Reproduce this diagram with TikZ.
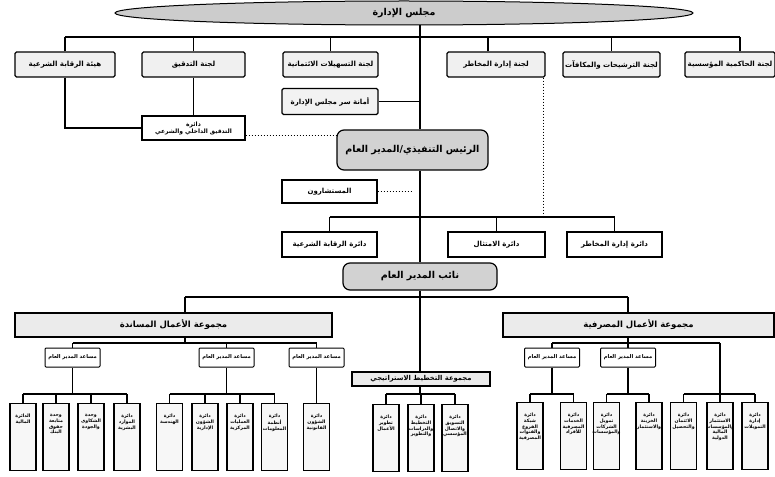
\documentclass[tikz,border=0pt]{standalone}
\usepackage{fontspec}
\newfontfamily\arabicfont[Script=Arabic]{DejaVu Sans}
\TeXXeTstate=1
\usetikzlibrary{shapes.geometric,calc}
\newcommand{\artx}[1]{{\arabicfont\bfseries\beginR #1\endR}}
\begin{document}
\begin{tikzpicture}[x=1pt,y=-1pt,
  conn/.style={line width=1.1pt},
  dotln/.style={line width=1pt, dash pattern=on 1.4pt off 1.6pt},
  boxbase/.style={draw, line width=1.2pt, inner sep=1pt, align=center},
  comm/.style={boxbase, fill=gray!12, rounded corners=1.5pt, minimum height=25pt, font=\fontsize{7.1}{8}\selectfont},
  plainbox/.style={boxbase, fill=white, minimum height=24pt, font=\fontsize{7}{8}\selectfont},
  headbox/.style={boxbase, fill=gray!35, rounded corners=7pt, font=\fontsize{9.5}{11}\selectfont},
  grpbox/.style={boxbase, line width=1.4pt, fill=gray!16, minimum height=24pt, font=\fontsize{8.5}{9.5}\selectfont},
  agmbox/.style={boxbase, line width=1pt, rounded corners=1pt, fill=white, minimum width=55pt, minimum height=19pt, font=\fontsize{5.2}{6}\selectfont},
  leaf/.style={draw, line width=1.3pt, fill=gray!6, minimum width=26pt, minimum height=67pt, anchor=north, inner sep=0pt},
  lt/.style={anchor=north, yshift=-11pt, align=center, inner sep=0pt, font=\fontsize{4.7}{5.7}\selectfont}
]
\useasboundingbox (0,0) rectangle (775,476);

% board
\node[ellipse, draw, line width=1pt, fill=gray!40, minimum width=578pt, minimum height=24pt, inner sep=0pt] (board) at (404,13) {\fontsize{9.5}{10}\selectfont\artx{مجلس الإدارة}};

\coordinate (tx) at (420,0);
\coordinate (bus1) at (0,37);
\coordinate (bus2) at (0,217);
\coordinate (bus3) at (0,297);
\coordinate (bus4) at (0,343);
\coordinate (bus5) at (0,394);
\coordinate (c4d) at (488,0);
\coordinate (c4r) at (543,0);
\coordinate (c6d) at (740,0);
\coordinate (yd) at (0,135);
\coordinate (gLd) at (185,0);
\coordinate (gRd) at (628,0);
\coordinate (r3x) at (720,0);

% committees
\node[comm, minimum width=100pt] (c1) at (65,64.5) {\artx{هيئة الرقابة الشرعية}};
\node[comm, minimum width=103pt] (c2) at (193.5,64.5) {\artx{لجنة التدقيق}};
\node[comm, minimum width=95pt] (c3) at (330.5,64.5) {\artx{لجنة التسهيلات الائتمانية}};
\node[comm, minimum width=98pt] (c4) at (496,64.5) {\artx{لجنة إدارة المخاطر}};
\node[comm, minimum width=97pt] (c5) at (611.5,64.5) {\artx{لجنة الترشيحات والمكافآت}};
\node[comm, minimum width=90pt] (c6) at (730,64.5) {\artx{لجنة الحاكمية المؤسسية}};

% secretary, audit dept
\node[boxbase, fill=gray!10, rounded corners=1.5pt, minimum width=96pt, minimum height=26pt, font=\fontsize{7}{8}\selectfont] (sec) at (330,101.5) {\artx{أمانة سر مجلس الإدارة}};
\node[plainbox, minimum width=103pt, minimum height=24pt, font=\fontsize{6}{7}\selectfont] (audit) at (193.5,128) {\artx{دائرة}\\\artx{التدقيق الداخلي والشرعي}};

% CEO
\node[headbox, minimum width=151pt, minimum height=40pt] (ceo) at (412.5,150) {\artx{الرئيس التنفيذي/المدير العام}};
\node[plainbox, minimum width=95pt, minimum height=23pt] (adv) at (329.5,191.5) {\artx{المستشارون}};

% departments
\node[plainbox, minimum width=95pt, minimum height=25pt] (d1) at (329.5,244.5) {\artx{دائرة الرقابة الشرعية}};
\node[plainbox, minimum width=97pt, minimum height=25pt] (d2) at (496.5,244.5) {\artx{دائرة الامتثال}};
\node[plainbox, minimum width=95pt, minimum height=25pt] (d3) at (614.5,244.5) {\artx{دائرة إدارة المخاطر}};

% deputy
\node[headbox, minimum width=154pt, minimum height=27pt] (dep) at (420,276.5) {\artx{نائب المدير العام}};

% groups
\node[grpbox, minimum width=317pt] (gL) at (173.5,325) {\artx{مجموعة الأعمال المساندة}};
\node[grpbox, minimum width=271pt] (gR) at (638.5,325) {\artx{مجموعة الأعمال المصرفية}};
\node[boxbase, line width=1.2pt, fill=gray!16, minimum width=138pt, minimum height=14pt, font=\fontsize{6.8}{7.5}\selectfont] (sp) at (421,379) {\artx{مجموعة التخطيط الاستراتيجي}};

% assistant GMs
\node[agmbox] (aL1) at (72.5,357.5) {\artx{مساعد المدير العام}};
\node[agmbox] (aL2) at (226.5,357.5) {\artx{مساعد المدير العام}};
\node[agmbox] (aL3) at (316.5,357.5) {\artx{مساعد المدير العام}};
\node[agmbox] (aR1) at (552,357.5) {\artx{مساعد المدير العام}};
\node[agmbox] (aR2) at (628,357.5) {\artx{مساعد المدير العام}};

% leaves
\node[leaf, label={[lt, name=t1]north:{\artx{الدائرة}\\\artx{المالية}}}] (l1) at (23,403) {};
\node[leaf, label={[lt, name=t2]north:{\artx{وحدة}\\\artx{متابعة}\\\artx{حقوق}\\\artx{البنك}}}] (l2) at (56,403) {};
\node[leaf, label={[lt, name=t3]north:{\artx{وحدة}\\\artx{الشكاوى}\\\artx{والجودة}}}] (l3) at (91,403) {};
\node[leaf, label={[lt, name=t4]north:{\artx{دائرة}\\\artx{الموارد}\\\artx{البشرية}}}] (l4) at (127,403) {};
\node[leaf, label={[lt, name=t5]north:{\artx{دائرة}\\\artx{الهندسة}}}] (l5) at (169.5,403) {};
\node[leaf, label={[lt, name=t6]north:{\artx{دائرة}\\\artx{الشؤون}\\\artx{الإدارية}}}] (l6) at (205,403) {};
\node[leaf, label={[lt, name=t7]north:{\artx{دائرة}\\\artx{العمليات}\\\artx{المركزية}}}] (l7) at (240,403) {};
\node[leaf, label={[lt, name=t8]north:{\artx{دائرة}\\\artx{أنظمة}\\\artx{المعلومات}}}] (l8) at (274.5,403) {};
\node[leaf, label={[lt, name=t9]north:{\artx{دائرة}\\\artx{الشؤون}\\\artx{القانونية}}}] (l9) at (316.5,403) {};
\node[leaf, label={[lt, name=t10]north:{\artx{دائرة}\\\artx{تطوير}\\\artx{الأعمال}}}] (s1) at (386,404) {};
\node[leaf, label={[lt, name=t11]north:{\artx{دائرة}\\\artx{التخطيط}\\\artx{والدراسات}\\\artx{والتطوير}}}] (s2) at (421,404) {};
\node[leaf, label={[lt, name=t12]north:{\artx{دائرة}\\\artx{التسويق}\\\artx{والاتصال}\\\artx{المؤسسي}}}] (s3) at (455,404) {};
\node[leaf, label={[lt, name=t13]north:{\artx{دائرة}\\\artx{شبكة}\\\artx{الفروع}\\\artx{والقنوات}\\\artx{المصرفية}}}] (r1) at (530,402) {};
\node[leaf, label={[lt, name=t14]north:{\artx{دائرة}\\\artx{الخدمات}\\\artx{المصرفية}\\\artx{للأفراد}}}] (r2) at (573.5,402) {};
\node[leaf, label={[lt, name=t15]north:{\artx{دائرة}\\\artx{تمويل}\\\artx{الشركات}\\\artx{والمؤسسات}}}] (r3) at (606.5,402) {};
\node[leaf, label={[lt, name=t16]north:{\artx{دائرة}\\\artx{الخزينة}\\\artx{والاستثمار}}}] (r4) at (649,402) {};
\node[leaf, label={[lt, name=t17]north:{\artx{دائرة}\\\artx{الائتمان}\\\artx{والتحصيل}}}] (r5) at (683.5,402) {};
\node[leaf, label={[lt, name=t18]north:{\artx{دائرة}\\\artx{الاستثمار}\\\artx{والمؤسسات}\\\artx{المالية}\\\artx{الدولية}}}] (r6) at (720,402) {};
\node[leaf, label={[lt, name=t19]north:{\artx{دائرة}\\\artx{إدارة}\\\artx{التمويلات}}}] (r7) at (755,402) {};

% ---- connectors ----
\draw[conn, line width=1.4pt] (board.south -| tx) -- (ceo.north -| tx);
\draw[conn] (c1.north |- bus1) -- (bus1 -| c6d);
\draw[conn] (c1.north) -- (c1.north |- bus1);
\draw[conn] (c2.north) -- (c2.north |- bus1);
\draw[conn] (c3.north) -- (c3.north |- bus1);
\draw[conn] (c4.north -| c4d) -- (bus1 -| c4d);
\draw[conn] (c5.north) -- (c5.north |- bus1);
\draw[conn] (c6.north -| c6d) -- (bus1 -| c6d);
\draw[conn] (sec.east) -- (sec.east -| tx);
\draw[conn] (c2.south) -- (audit.north);
\draw[conn] (c1.south) |- (audit.west);
\draw[dotln] (audit.east |- yd) -- (ceo.west |- yd);
\draw[dotln] (c4.south -| c4r) -- (bus2 -| c4r);

\draw[conn, line width=1.4pt] (ceo.south -| tx) -- (dep.north -| tx);
\draw[dotln] (adv.east) -- ([xshift=-7pt]adv.east -| tx);
\draw[conn] (d1.north |- bus2) -- (d3.north |- bus2);
\draw[conn] (d1.north) -- (d1.north |- bus2);
\draw[conn] (d2.north) -- (d2.north |- bus2);
\draw[conn] (d3.north) -- (d3.north |- bus2);

\draw[conn, line width=1.4pt] (dep.south -| tx) -- (sp.north -| tx);
\draw[conn] (bus3 -| gLd) -- (bus3 -| gRd);
\draw[conn] (bus3 -| gLd) -- (gL.north -| gLd);
\draw[conn] (bus3 -| gRd) -- (gR.north -| gRd);

\draw[conn] (gL.south -| gLd) -- (bus4 -| gLd);
\draw[conn] (aL1.north |- bus4) -- (aL3.north |- bus4);
\draw[conn] (aL1.north) -- (aL1.north |- bus4);
\draw[conn] (aL2.north) -- (aL2.north |- bus4);
\draw[conn] (aL3.north) -- (aL3.north |- bus4);
\draw[conn] (gR.south -| gRd) -- (bus4 -| gRd);
\draw[conn] (aR1.north |- bus4) -- (bus4 -| r3x);
\draw[conn] (aR1.north) -- (aR1.north |- bus4);
\draw[conn] (aR2.north) -- (aR2.north |- bus4);

% leaf buses
\draw[conn] (l1.north |- bus5) -- (l4.north |- bus5);
\draw[conn] (aL1.south) -- (aL1.south |- bus5);
\foreach \n in {l1,l2,l3,l4} \draw[conn] (\n.north) -- (\n.north |- bus5);
\draw[conn] (l5.north |- bus5) -- (l8.north |- bus5);
\draw[conn] (aL2.south) -- (aL2.south |- bus5);
\foreach \n in {l5,l6,l7,l8} \draw[conn] (\n.north) -- (\n.north |- bus5);
\draw[conn] (aL3.south) -- (l9.north);
\draw[conn] (s1.north |- bus5) -- (s3.north |- bus5);
\draw[conn] (sp.south -| tx) -- (bus5 -| tx);
\foreach \n in {s1,s2,s3} \draw[conn] (\n.north) -- (\n.north |- bus5);
\draw[conn] (r1.north |- bus5) -- (r2.north |- bus5);
\draw[conn] (aR1.south) -- (aR1.south |- bus5);
\draw[conn] (r3.north |- bus5) -- (r4.north |- bus5);
\draw[conn] (aR2.south) -- (aR2.south |- bus5);
\draw[conn] (r5.north |- bus5) -- (r7.north |- bus5);
\draw[conn] (bus4 -| r3x) -- (bus5 -| r3x);
\foreach \n in {r1,r2,r3,r4,r5,r6,r7} \draw[conn] (\n.north) -- (\n.north |- bus5);
\end{tikzpicture}
\end{document}
